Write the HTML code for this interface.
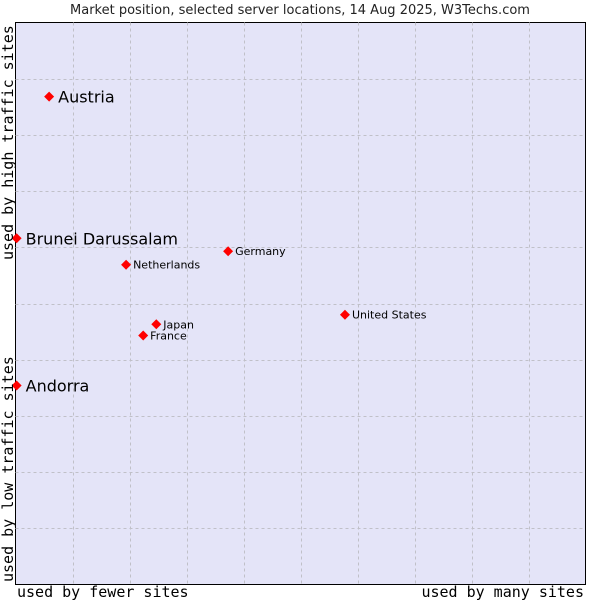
<!DOCTYPE html>
<html><head><meta charset="utf-8"><style>
body{margin:0;background:#fff;width:600px;height:600px;overflow:hidden}
svg text{font-family:"DejaVu Sans","Liberation Sans",sans-serif}
.mono{font-family:"DejaVu Sans Mono","Liberation Mono",monospace}
</style></head><body>
<svg id="c" width="600" height="600">
<text x="300" y="14" text-anchor="middle" font-size="13" fill="#222">Market position, selected server locations, 14 Aug 2025, W3Techs.com</text>
<rect x="15.5" y="22.5" width="570" height="562" fill="#e4e4f8" stroke="#000"/>
<g id="grid"></g>
<g id="pts"></g>
<text class="mono" x="17" y="597" font-size="15">used by fewer sites</text>
<text class="mono" x="584" y="597" font-size="15" text-anchor="end">used by many sites</text>
<text class="mono" transform="translate(13,260) rotate(-90)" font-size="15">used by high traffic sites</text>
<text class="mono" transform="translate(13,582) rotate(-90)" font-size="15">used by low traffic sites</text>
</svg>
<script>
const names=["Austria","Brunei Darussalam","Andorra","Germany","Netherlands","United States","Japan","France"];
const xs=[5.9,0.2,0.2,37.3,19.4,57.8,24.7,22.4];
const ys=[86.8,61.6,35.4,59.3,56.9,48.0,46.3,44.3];
const big=[1,1,1,0,0,0,0,0];
const L=15.5,R=585.5,T=22.5,B=584.5;
const sx=v=>L+v/100*(R-L), sy=v=>B-v/100*(B-T);
const ns="http://www.w3.org/2000/svg";
const g=document.getElementById('grid'),p=document.getElementById('pts');
for(let i=1;i<10;i++){
 const v=document.createElementNS(ns,'line');
 
 
 const x=Math.round(sx(i*10))+0.5;
 v.setAttribute('x1',x);v.setAttribute('x2',x);v.setAttribute('y1',T);v.setAttribute('y2',B);
 v.setAttribute('stroke','#c0c0c8');v.setAttribute('stroke-dasharray','3,3');g.appendChild(v);
 const h=document.createElementNS(ns,'line');
 
 
 const y=Math.round(sy(i*10))+0.5;
 h.setAttribute('y1',y);h.setAttribute('y2',y);h.setAttribute('x1',L);h.setAttribute('x2',R);
 h.setAttribute('stroke','#c0c0c8');h.setAttribute('stroke-dasharray','3,3');g.appendChild(h);
}
names.forEach((n,i)=>{
 const x=sx(xs[i]),y=sy(ys[i]);
 const d=document.createElementNS(ns,'path');
 
 
 d.setAttribute('d',`M${x-5},${y}L${x},${y-5}L${x+5},${y}L${x},${y+5}Z`);
 d.setAttribute('fill','#f00');p.appendChild(d);
 const t=document.createElementNS(ns,'text');
 
 
 t.setAttribute('x',x+(big[i]?9:7));t.setAttribute('y',y+(big[i]?6:4));
 t.setAttribute('font-size',big[i]?16:11);t.setAttribute('fill','#000');
 t.textContent=n;p.appendChild(t);
});
</script>
</body></html>
